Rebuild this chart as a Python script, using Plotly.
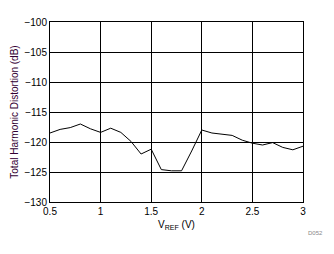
import plotly.graph_objects as go

vref = [0.5, 0.6, 0.7, 0.8, 0.9, 1.0, 1.1, 1.2, 1.3, 1.4, 1.5, 1.6, 1.7, 1.8, 1.9,
        2.0, 2.1, 2.2, 2.3, 2.4, 2.5, 2.6, 2.7, 2.8, 2.9, 3.0]
thd = [-118.5, -117.9, -117.6, -117.0, -117.8, -118.4, -117.7, -118.4, -119.9, -122.0,
       -121.2, -124.6, -124.8, -124.8, -121.5, -118.0, -118.5, -118.7, -118.9, -119.7,
       -120.2, -120.5, -120.1, -120.9, -121.3, -120.7]
x_ticks = [0.5, 1, 1.5, 2, 2.5, 3]
x_labels = ["0.5", "1", "1.5", "2", "2.5", "3"]
y_ticks = [-130, -125, -120, -115, -110, -105, -100]

fig = go.Figure()
fig.add_trace(go.Scatter(x=vref, y=thd, mode="lines",
                         line=dict(color="black", width=1)))

font = dict(family="Arial, Liberation Sans, sans-serif", size=10, color="black")
fig.update_layout(
    width=334, height=254,
    margin=dict(l=50, r=31, t=22, b=52),
    paper_bgcolor="white", plot_bgcolor="white",
    showlegend=False, font=font,
    xaxis=dict(range=[0.5, 3], tickvals=x_ticks, ticktext=x_labels,
               showgrid=True, gridcolor="black", gridwidth=1,
               showline=True, linecolor="black", linewidth=1, mirror=True,
               zeroline=False, ticks="", tickfont=font,
               title=dict(text="V<sub>REF</sub> (V)", font=font, standoff=4)),
    yaxis=dict(range=[-130, -100], tickvals=y_ticks,
               showgrid=True, gridcolor="black", gridwidth=1,
               showline=True, linecolor="black", linewidth=1, mirror=True,
               zeroline=False, ticks="", tickfont=font,
               title=dict(text="Total Harmonic Distortion (dB)",
                          font=dict(family="Arial, Liberation Sans, sans-serif", size=10, color="#330033"),
                          standoff=3)),
)
fig.add_annotation(text="D052", x=1, y=0, xref="paper", yref="paper",
                   xanchor="right", yanchor="top", xshift=22, yshift=-26,
                   showarrow=False, font=dict(family="Arial, Liberation Sans, sans-serif", size=6, color="#888888"))
fig.write_html("out.html")
